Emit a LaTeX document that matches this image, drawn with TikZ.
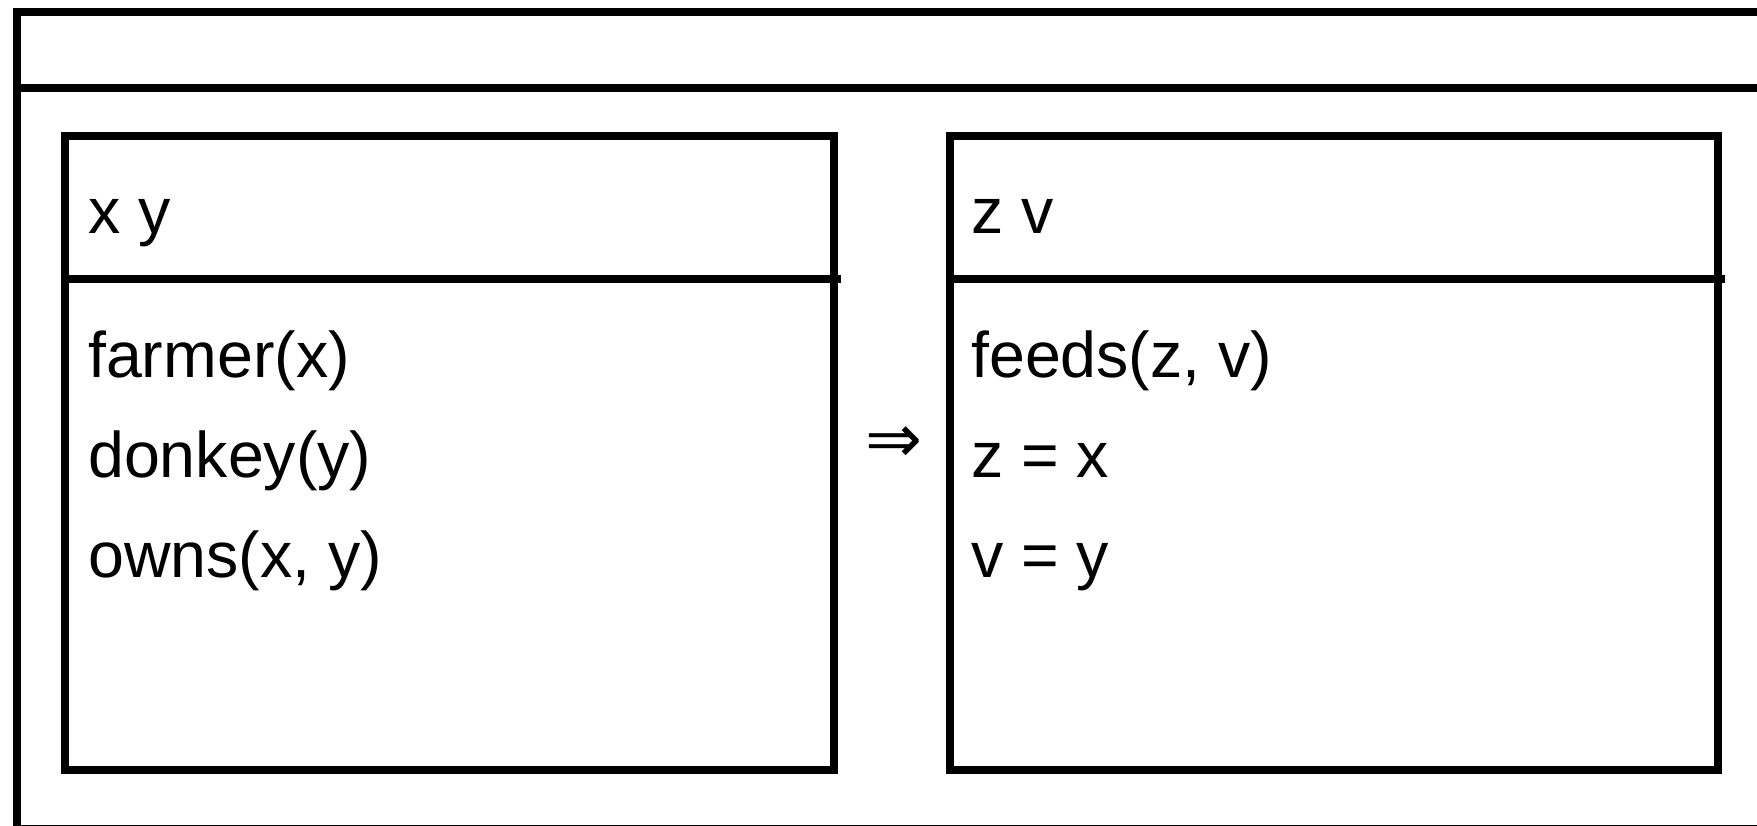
\documentclass[tikz,border=0pt]{standalone}
\usepackage{fontspec}
\setmainfont{Liberation Sans}
\newfontfamily\symfont{DejaVu Sans}
\begin{document}
\begin{tikzpicture}[x=1pt,y=-1pt,
  frame/.style={draw=black, line width=8pt, line join=miter},
  boxnode/.style={frame, inner sep=0pt, outer sep=0pt, anchor=north west, minimum width=768.5pt, minimum height=634.5pt},
  txt/.style={anchor=base west, inner sep=0pt, font=\fontsize{64.5}{64.5}\selectfont}]
\useasboundingbox (0,0) rectangle (1757,825);
\begin{scope}
  \clip (0,0) rectangle (1757,825);
  \draw[frame] (17,12) rectangle (1800,829);
  \coordinate (hl) at (17,88);
  \coordinate (hr) at (1800,88);
  \draw[frame] (hl) -- (hr);
\end{scope}
% left box
\node[boxnode] (L) at (65,135.5) {};
\coordinate (Lh1) at (65,279);
\coordinate (Lh2) at (841,279);
\draw[frame] (Lh1) -- (Lh2);
% right box
\node[boxnode] (R) at (949.5,135.5) {};
\coordinate (Rh1) at (949.5,279);
\coordinate (Rh2) at (1725,279);
\draw[frame] (Rh1) -- (Rh2);
% texts left
\node[txt] (lx) at (88,233) {x y};
\node[txt] (l1) at (88,377) {farmer(x)};
\node[txt] (l2) at (88,477) {donkey(y)};
\node[txt] (l3) at (88,577) {owns(x, y)};
% texts right
\node[txt] (rx) at (971,233) {z v};
\node[txt] (r1) at (971,377) {feeds(z, v)};
\node[txt] (r2) at (971,477) {z = x};
\node[txt] (r3) at (971,577) {v = y};
% implication
\node[inner sep=0pt, font=\symfont\fontsize{68}{68}\selectfont] (imp) at (894,445) {⇒};
\end{tikzpicture}
\end{document}
